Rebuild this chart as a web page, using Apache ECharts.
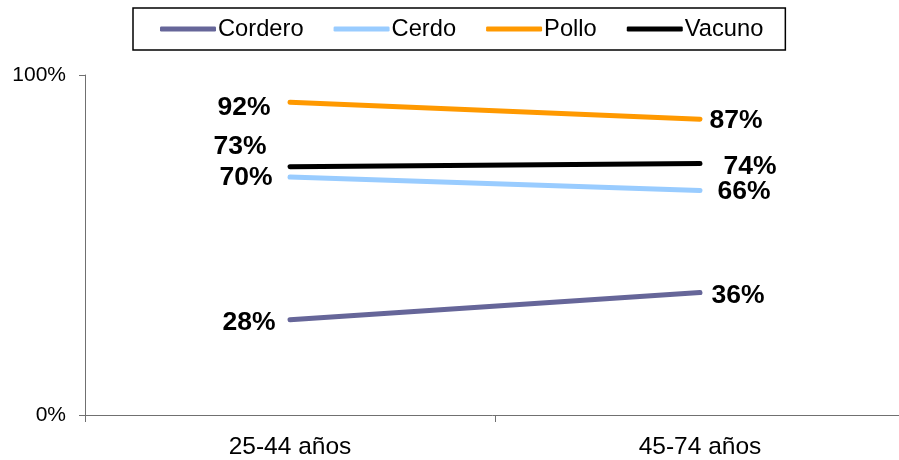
<!DOCTYPE html>
<html>
<head>
<meta charset="utf-8">
<script src="https://cdn.jsdelivr.net/npm/echarts@6/dist/echarts.min.js"></script>
<style>
html,body{margin:0;padding:0;background:#fff;}
#chart{width:899px;height:460px;}
</style>
</head>
<body>
<div id="chart"></div>
<script>
var categories = ['25-44 años', '45-74 años'];
var seriesNames = ['Cordero', 'Cerdo', 'Pollo', 'Vacuno'];
var cordero = [28, 36];
var cerdo = [70, 66];
var pollo = [92, 87];
var vacuno = [73, 74];
var yTicks = [0, 100];

var colors = ['#666699', '#99CCFF', '#FF9900', '#000000'];
// label placement per series per point: [position, distance, dy]
var labelLayout = [
  [['left', 14, 3], ['right', 11, 3]],
  [['left', 17, 1], ['right', 17, 1]],
  [['left', 19, 5], ['right', 9, 1]],
  [['left', 23, -20], ['right', 23, 3]]
];
var values = [cordero, cerdo, pollo, vacuno];
var FONT = '"Liberation Sans", Arial, sans-serif';

var series = seriesNames.map(function (name, si) {
  return {
    name: name,
    type: 'line',
    symbol: 'circle',
    symbolSize: 1,
    color: colors[si],
    lineStyle: { width: 5, color: colors[si], cap: 'round' },
    itemStyle: { color: colors[si] },
    emphasis: { disabled: true },
    data: values[si].map(function (v, i) {
      var l = labelLayout[si][i];
      return {
        value: v,
        label: {
          show: true,
          position: l[0],
          distance: l[1],
          offset: [0, l[2]],
          formatter: '{c}%',
          color: '#000',
          fontSize: 26.5,
          fontWeight: 'bold',
          fontFamily: FONT
        }
      };
    })
  };
});

var chart = echarts.init(document.getElementById('chart'), null, { renderer: 'canvas' });
chart.setOption({
  animation: false,
  backgroundColor: '#fff',
  legend: {
    data: seriesNames,
    left: 133,
    top: 8,
    padding: [9, 22, 9, 27],
    borderColor: '#000',
    borderWidth: 1.5,
    itemGap: 30,
    itemWidth: 56,
    itemHeight: 5,
    icon: 'roundRect',
    textStyle: { fontSize: 23.7, fontFamily: FONT, color: '#000', padding: [0, 0, 0, -3] }
  },
  grid: { left: 85, width: 820, top: 75, bottom: 45, containLabel: false, outerBoundsMode: 'none' },
  xAxis: {
    type: 'category',
    data: categories,
    boundaryGap: true,
    axisLine: { show: true, lineStyle: { color: '#707070', width: 1 } },
    axisTick: { show: true, length: 7, lineStyle: { color: '#707070' } },
    axisLabel: { fontSize: 24.5, fontFamily: FONT, color: '#000', margin: 20 },
    splitLine: { show: false }
  },
  yAxis: {
    type: 'value',
    min: yTicks[0],
    max: yTicks[yTicks.length - 1],
    interval: yTicks[1] - yTicks[0],
    axisLine: { show: true, lineStyle: { color: '#707070', width: 1 } },
    axisTick: { show: true, length: 6, lineStyle: { color: '#707070' } },
    axisLabel: { fontSize: 21, fontFamily: FONT, color: '#000', margin: 19, formatter: '{value}%' },
    splitLine: { show: false }
  },
  series: series
});
</script>
</body>
</html>
